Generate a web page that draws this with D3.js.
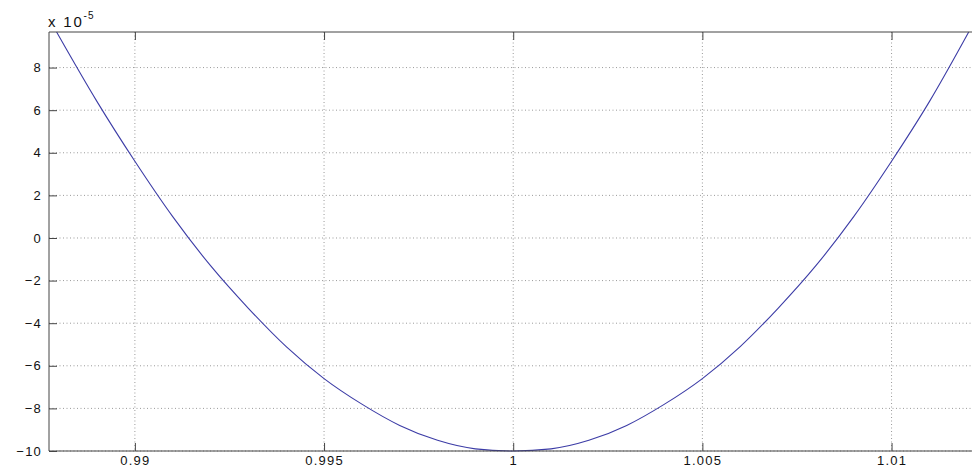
<!DOCTYPE html>
<html>
<head>
<meta charset="utf-8">
<script src="https://cdn.jsdelivr.net/npm/d3@7"></script>
<style>
  body { margin: 0; background: #fff; }
  svg { display: block; }
  text { font-family: "Liberation Sans", Arial, sans-serif; fill: #111; }
</style>
</head>
<body>
<svg id="chart" width="972" height="469"></svg>
<script>
// values, y in units of 1e-5
const xValues = [0.98793, 0.989, 0.990, 0.991, 0.992, 0.993, 0.994, 0.995, 0.996, 0.997, 0.998, 0.999,
    1.000, 1.001, 1.002, 1.003, 1.004, 1.005, 1.006, 1.007, 1.008, 1.009, 1.010, 1.011, 1.01204];
const yValues = [9.67, 6.4, 3.6, 1.0, -1.3, -3.3, -5.1, -6.6, -7.8, -8.8, -9.5, -9.9,
    -10.0, -9.9, -9.5, -8.8, -7.8, -6.6, -5.1, -3.3, -1.3, 1.0, 3.6, 6.4, 9.67];
const xTicks = [0.99, 0.995, 1, 1.005, 1.01];
const xTickLabels = ["0.99", "0.995", "1", "1.005", "1.01"];
const yTicks = [-10, -8, -6, -4, -2, 0, 2, 4, 6, 8];

const svg = d3.select("#chart");
const margin = { top: 32, right: 0, bottom: 18, left: 49 };
const width = 972, height = 469;

const x = d3.scaleLinear()
    .domain([0.98773, 1.0121])
    .range([margin.left, 971]);
const y = d3.scaleLinear()
    .domain([-10, 9.67])
    .range([height - margin.bottom, margin.top]);

const axisColor = "#444";

// grid
svg.append("g")
    .selectAll("line")
    .data(xTicks)
    .enter()
    .append("line")
    .attr("x1", (d) => x(d)).attr("x2", (d) => x(d))
    .attr("y1", margin.top).attr("y2", height - margin.bottom)
    .attr("stroke", "#9a9a9a").attr("stroke-width", 1)
    .attr("stroke-dasharray", "1,2.5");

svg.append("g")
    .selectAll("line")
    .data(yTicks)
    .enter()
    .append("line")
    .attr("x1", margin.left).attr("x2", width)
    .attr("y1", (d) => y(d)).attr("y2", (d) => y(d))
    .attr("stroke", "#9a9a9a").attr("stroke-width", 1)
    .attr("stroke-dasharray", "1,2.5");

// curve
const line = d3.line()
    .x((d, i) => x(xValues[i]))
    .y((d) => y(d))
    .curve(d3.curveMonotoneX);

svg.append("path")
    .datum(yValues)
    .attr("fill", "none")
    .attr("stroke", "#3c3ca6")
    .attr("stroke-width", 1.1)
    .attr("d", line);

// axes, matlab style ticks pointing inward
const bottomAxis = svg.append("g")
    .attr("transform", `translate(0,${y(-10)})`)
    .call(d3.axisBottom(x).tickValues(xTicks).tickSize(-8).tickPadding(5)
        .tickFormat((d, i) => xTickLabels[i]));

const topAxis = svg.append("g")
    .attr("transform", `translate(0,${margin.top})`)
    .call(d3.axisTop(x).tickValues(xTicks).tickSize(-8).tickFormat(""));

const leftAxis = svg.append("g")
    .attr("transform", `translate(${margin.left},0)`)
    .call(d3.axisLeft(y).tickValues(yTicks).tickSize(-8).tickPadding(7));

[bottomAxis, topAxis, leftAxis].forEach((g) => {
    g.select(".domain").remove();
    g.selectAll(".tick line").attr("stroke", axisColor);
    g.selectAll("text")
        .attr("font-size", 13)
        .attr("letter-spacing", "1.2px")
        .attr("fill", "#111");
});

// plain lines for the box so they reach the picture edge
svg.append("line")
    .attr("x1", margin.left).attr("x2", width)
    .attr("y1", y(-10)).attr("y2", y(-10))
    .attr("stroke", axisColor);
svg.append("line")
    .attr("x1", margin.left).attr("x2", width)
    .attr("y1", margin.top).attr("y2", margin.top)
    .attr("stroke", axisColor);
svg.append("line")
    .attr("x1", margin.left).attr("x2", margin.left)
    .attr("y1", margin.top).attr("y2", y(-10))
    .attr("stroke", axisColor);

// exponent label
const expo = svg.append("text")
    .attr("x", 48)
    .attr("y", 27)
    .attr("font-size", 15)
    .attr("letter-spacing", "1.8px");
expo.append("tspan").text("x 10");
expo.append("tspan")
    .attr("font-size", 10)
    .attr("dy", -8)
    .attr("letter-spacing", "1px")
    .text("-5");
</script>
</body>
</html>
